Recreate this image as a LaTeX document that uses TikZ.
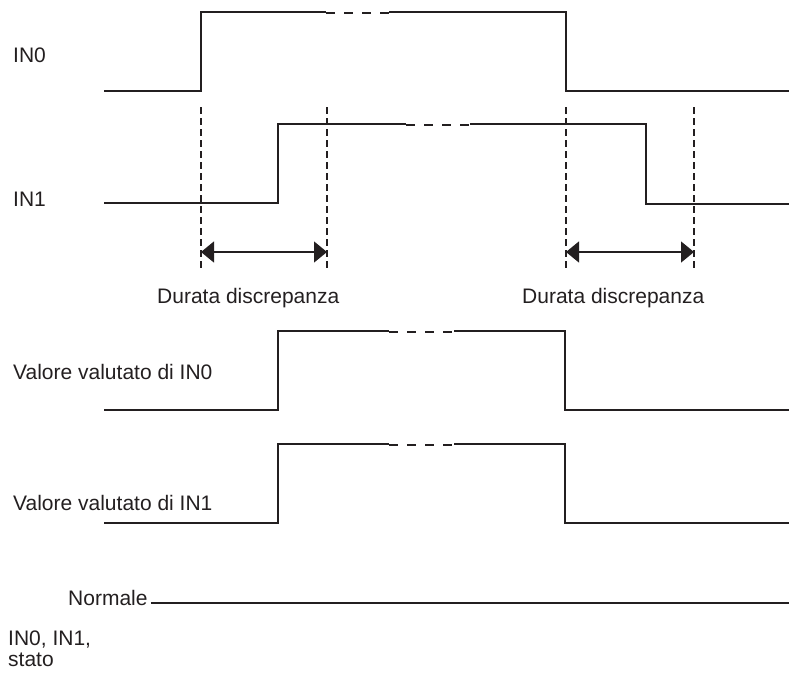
\documentclass[tikz,border=0pt]{standalone}
\usepackage{fontspec}
\setmainfont{Liberation Sans}
\usetikzlibrary{arrows.meta}
\definecolor{ink}{HTML}{231F20}
\begin{document}
\begin{tikzpicture}[x=1pt,y=-1pt,
  lbl/.style={anchor=base west,inner sep=0pt,text=ink,font=\fontsize{21}{21}\selectfont},
  sig/.style={draw=ink,line width=1.3pt,line join=miter},
  gap/.style={draw=ink,line width=2pt,dash pattern=on 9pt off 9pt},
  guide/.style={draw=ink,line width=1.2pt,dash pattern=on 7pt off 4pt},
  dim/.style={draw=ink,line width=1.3pt,{Triangle[length=13pt,width=21pt]}-{Triangle[length=13pt,width=21pt]}}]
\useasboundingbox (0,0) rectangle (791,678);
% labels
\node[lbl] (lin0) at (13,62) {IN0};
\node[lbl] (lin1) at (13,206) {IN1};
\node[lbl] (ld1) at (157,303) {Durata discrepanza};
\node[lbl] (ld2) at (522,303) {Durata discrepanza};
\node[lbl] (lv0) at (13,379) {Valore valutato di IN0};
\node[lbl] (lv1) at (13,510) {Valore valutato di IN1};
\node[lbl] (lnorm) at (68,605) {Normale};
\node[lbl] (lstato1) at (8,645) {IN0, IN1,};
\node[lbl] (lstato2) at (8,666) {stato};
% IN0
\draw[sig] (104,91) -- (201,91) -- (201,12) -- (326,12);
\draw[gap] (326,12.7) -- (389,12.7);
\draw[sig] (389,12) -- (566,12) -- (566,91) -- (789,91);
% IN1
\draw[sig] (104,203) -- (278,203) -- (278,124) -- (406,124);
\draw[gap] (406,124.7) -- (470,124.7);
\draw[sig] (470,124) -- (646,124) -- (646,204) -- (789,204);
% guides
\draw[guide] (201,107) -- (201,268);
\draw[guide] (327,107) -- (327,268);
\draw[guide] (566,107) -- (566,268);
\draw[guide] (694,107) -- (694,268);
% dimension arrows
\coordinate (a1) at (201,252);
\coordinate (b1) at (327,252);
\coordinate (a2) at (566,252);
\coordinate (b2) at (694,252);
\draw[dim] (a1) -- (b1);
\draw[dim] (a2) -- (b2);
% Valore valutato IN0
\draw[sig] (104,410) -- (278,410) -- (278,331) -- (389,331);
\draw[gap] (389,331.7) -- (454,331.7);
\draw[sig] (454,331) -- (565,331) -- (565,410) -- (789,410);
% Valore valutato IN1
\draw[sig] (104,523) -- (278,523) -- (278,444) -- (389,444);
\draw[gap] (389,444.7) -- (454,444.7);
\draw[sig] (454,444) -- (565,444) -- (565,523) -- (789,523);
% Normale
\coordinate (nend) at (789,603);
\draw[sig,line width=1.8pt] (lnorm.base east) ++(3,-2) -- (nend);
\end{tikzpicture}
\end{document}
